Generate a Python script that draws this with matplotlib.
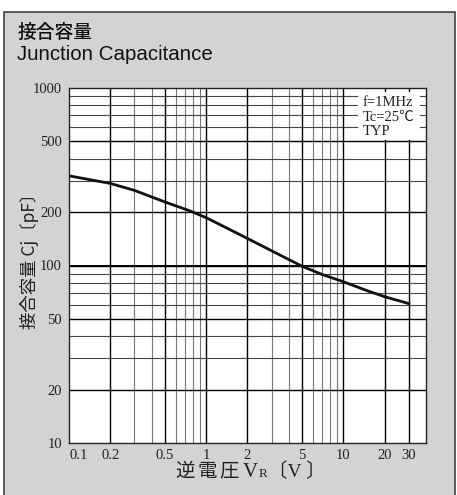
import matplotlib
matplotlib.use("Agg")
import matplotlib.pyplot as plt
from matplotlib.patches import Rectangle
from matplotlib.ticker import NullFormatter, FixedLocator

# curve (reverse voltage V, capacitance pF)
vr = [0.1, 0.2, 0.3, 0.5, 0.75, 1, 2, 3, 5, 7, 10, 15, 20, 30]
cj = [320, 290, 265, 228, 204, 186, 142, 121, 99, 89, 81, 72, 66.7, 61]

x_labels = [0.1, 0.2, 0.5, 1, 2, 5, 10, 20, 30]
y_labels = [10, 20, 50, 100, 200, 500, 1000]
x_grid_minor = [0.3, 0.4, 0.6, 0.7, 0.8, 0.9, 3, 4, 6, 7, 8, 9]
y_grid_minor = [30, 40, 60, 70, 80, 90, 300, 400, 600, 700, 800, 900]

cjk = ["Noto Sans CJK JP", "DejaVu Sans"]
serif = "Liberation Serif"
ink = "#222222"

W, H = 457, 495
fig = plt.figure(figsize=(W / 100, H / 100), dpi=100)
fig.patch.set_facecolor("white")

# gray panel behind everything, runs off the bottom edge
panel = Rectangle((4 / W, -0.05), 451 / W, 1.05 - 12 / H, transform=fig.transFigure,
                  facecolor="#d3d3d3", edgecolor="#444444", lw=1.2, zorder=-10)
fig.patches.append(panel)

ax = fig.add_axes([69 / W, 1 - 443 / H, (426 - 69) / W, (443 - 88) / H])
ax.set_facecolor("white")
ax.set_xscale("log")
ax.set_yscale("log")
ax.set_xlim(0.1, 40)
ax.set_ylim(10, 1000)

for v in x_grid_minor:
    ax.axvline(v, color="#777777", lw=0.8, zorder=1)
for v in y_grid_minor:
    ax.axhline(v, color="#444444", lw=0.8, zorder=1)
for v in x_labels[1:]:
    ax.axvline(v, color="black", lw=1.0, zorder=1)
for v in y_labels[1:-1]:
    ax.axhline(v, color="black", lw=1.0, zorder=1)
ax.axhline(100, color="black", lw=1.4, zorder=1)

ax.plot(vr, cj, color="#111111", lw=2.0, zorder=3, solid_joinstyle="round")

ax.xaxis.set_major_locator(FixedLocator(x_labels))
ax.yaxis.set_major_locator(FixedLocator(y_labels))
ax.xaxis.set_minor_formatter(NullFormatter())
ax.yaxis.set_minor_formatter(NullFormatter())
ax.set_xticklabels([f"{v:g}" for v in x_labels])
ax.set_yticklabels([f"{v:g}" for v in y_labels])
ax.tick_params(which="both", length=0, labelsize=10.5, labelcolor=ink)
ax.tick_params(axis="x", pad=4)
ax.tick_params(axis="y", pad=5)
for lab in ax.get_xticklabels() + ax.get_yticklabels():
    lab.set_fontfamily(serif)
ax.get_xticklabels()[0].set_horizontalalignment("left")
for s in ax.spines.values():
    s.set_color(ink)
    s.set_linewidth(1.0)

# condition box
ax.add_patch(Rectangle((358 / W, 1 - 140 / H), 62 / W, 48 / H, transform=fig.transFigure,
                       facecolor="white", edgecolor="none", zorder=4))
for i, t in enumerate(["f=1MHz", "Tc=25℃", "TYP"]):
    fig.text(363 / W, 1 - (103 + 14.5 * i) / H, t, fontsize=10.5, va="center", ha="left",
             family=[serif, "Noto Sans CJK JP"], color=ink, zorder=5)

# titles
fig.text(18 / W, 1 - 32 / H, "接合容量", fontsize=13.5, family=cjk, weight="medium",
         va="center", ha="left", color="#111111")
fig.text(17 / W, 1 - 55 / H, "Junction Capacitance", fontsize=14.8,
         family="Liberation Sans", va="center", ha="left", color="#111111")

# axis labels
fig.text(30 / W, 1 - 257 / H, "接合容量 Cj〔pF〕", fontsize=12.5, family=cjk,
         rotation=90, va="center", ha="center", color=ink)
for t, xp in [("逆", 185), ("電", 207), ("圧", 229)]:
    fig.text(xp / W, 1 - 471 / H, t, fontsize=14, family=cjk,
             va="center", ha="center", color=ink)
fig.text(258 / W, 1 - 471 / H, "V", fontsize=15, family=serif,
         va="baseline", ha="right", color=ink, position=(258 / W, 1 - 477 / H))
fig.text(258.5 / W, 1 - 477 / H, "R", fontsize=9.5, family=serif,
         va="baseline", ha="left", color=ink)
fig.text(267.5 / W, 1 - 477 / H, "〔V 〕", fontsize=14, family=[serif, "Noto Sans CJK JP"],
         va="baseline", ha="left", color=ink)

fig.savefig("out.png", dpi=100)
